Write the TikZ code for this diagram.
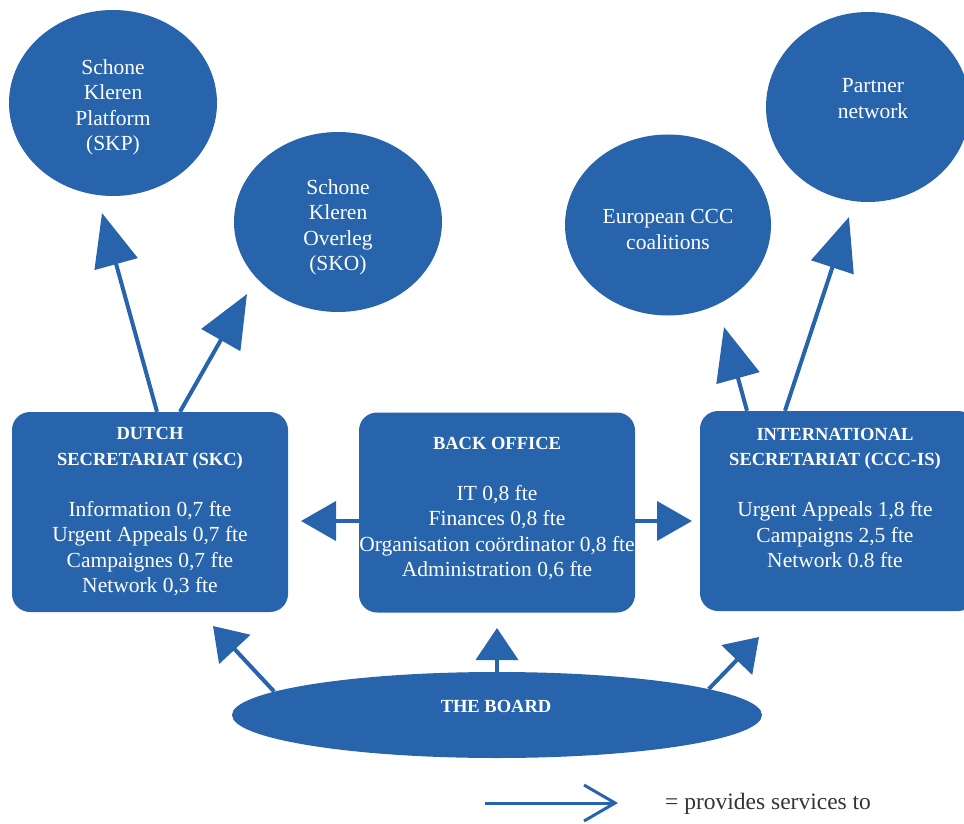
\documentclass[tikz,border=0pt]{standalone}
\usepackage{fontspec}
\setmainfont{Liberation Serif}
\usetikzlibrary{arrows.meta,shapes.geometric}
\definecolor{cblue}{HTML}{2764AC}
\definecolor{ctext}{HTML}{333333}
\begin{document}
\begin{tikzpicture}[x=1pt,y=-1pt,
  blob/.style={ellipse, fill=cblue, inner sep=0pt},
  panel/.style={rectangle, rounded corners=18pt, fill=cblue, inner sep=0pt, minimum width=276pt, minimum height=200pt},
  ptext/.style={text=white, align=center, font=\fontsize{21.5}{25.5}\selectfont, inner sep=0pt},
  hdr/.style={font=\bfseries\fontsize{18.5}{25.5}\selectfont},
  conn/.style={draw=cblue, line width=4pt, -{Triangle[length=53pt,width=44pt]}},
  connS/.style={draw=cblue, line width=4pt, -{Triangle[length=35pt,width=39pt]}},
  connB/.style={draw=cblue, line width=4pt, -{Triangle[length=32pt,width=42pt]}},
  legarrow/.style={draw=cblue, line width=3pt, -{Straight Barb[length=31pt,width=36pt]}}
]
\useasboundingbox (0,0) rectangle (964,824);

% ellipses
\node[blob, minimum width=208pt, minimum height=186pt] (skp) at (113,103) {};
\node[blob, minimum width=208pt, minimum height=180pt] (sko) at (338,222) {};
\node[blob, minimum width=206pt, minimum height=181pt] (eur) at (668,225) {};
\node[blob, minimum width=204pt, minimum height=190pt] (partner) at (868,107) {};
\node[ptext] (skpT) at (113,107.5) {Schone\\Kleren\\Platform\\(SKP)};
\node[ptext] (skoT) at (338,227.5) {Schone\\Kleren\\Overleg\\(SKO)};
\node[ptext] (eurT) at (668,229.5) {European CCC\\coalitions};
\node[ptext] (partnerT) at (873,98.5) {Partner\\network};

% panels
\node[panel] (dutch) at (150,512) {};
\node[panel] (back) at (497,512.5) {};
\node[panel] (intl) at (838,511) {};

\node[ptext] (dutchT) at (150,512) {{\bfseries\fontsize{18.5}{25.5}\selectfont DUTCH}\\{\bfseries\fontsize{18.5}{25.5}\selectfont SECRETARIAT (SKC)}\\[25.5pt]Information 0,7 fte\\Urgent Appeals 0,7 fte\\Campaignes 0,7 fte\\Network 0,3 fte};
\node[ptext] (backT) at (497,508.5) {{\bfseries\fontsize{18.5}{25.5}\selectfont BACK OFFICE}\\[25.5pt]IT 0,8 fte\\Finances 0,8 fte\\Organisation coördinator 0,8 fte\\Administration 0,6 fte};
\node[ptext] (intlT) at (835,498) {{\bfseries\fontsize{18.5}{25.5}\selectfont INTERNATIONAL}\\{\bfseries\fontsize{18.5}{25.5}\selectfont SECRETARIAT (CCC-IS)}\\[25.5pt]Urgent Appeals 1,8 fte\\Campaigns 2,5 fte\\Network 0.8 fte};

% board
\node[ellipse, fill=cblue, inner sep=0pt, minimum width=530pt, minimum height=86pt] (board) at (497,715) {};
\node[ptext, hdr] (boardT) at (496,706) {THE BOARD};

% upward arrows
\coordinate (tipSKP) at (102,213);
\coordinate (tipSKO) at (247,294);
\coordinate (tipEUR) at (724,327);
\coordinate (tipPN) at (849,217);
\draw[conn] ([xshift=7pt]dutch.north) -- (tipSKP);
\draw[conn] ([xshift=30pt]dutch.north) -- (tipSKO);
\draw[conn] ([xshift=-91pt]intl.north) -- (tipEUR);
\draw[conn] ([xshift=-53pt]intl.north) -- (tipPN);

% horizontal arrows
\coordinate (tipDutch) at (301,521);
\coordinate (tipIntl) at (692,521);
\draw[connS] ([yshift=-8.5pt]back.west) -- (tipDutch);
\draw[connS] ([yshift=-8.5pt]back.east) -- (tipIntl);

% board arrows
\coordinate (tipB1) at (213,626);
\coordinate (tipB2) at (497,628);
\coordinate (tipB3) at (759,637);
\draw[connB] (board.174) -- (tipB1);
\draw[connB] (board.north) -- (tipB2);
\draw[connB] (board.7.4) -- (tipB3);

% legend
\coordinate (lgA) at (485,803);
\coordinate (lgB) at (618,803);
\draw[legarrow] (lgA) -- (lgB);
\node[anchor=west, text=ctext, font=\fontsize{23.5}{28}\selectfont, inner sep=0pt] (legendT) at (665,803.5) {= provides services to};
\end{tikzpicture}
\end{document}
